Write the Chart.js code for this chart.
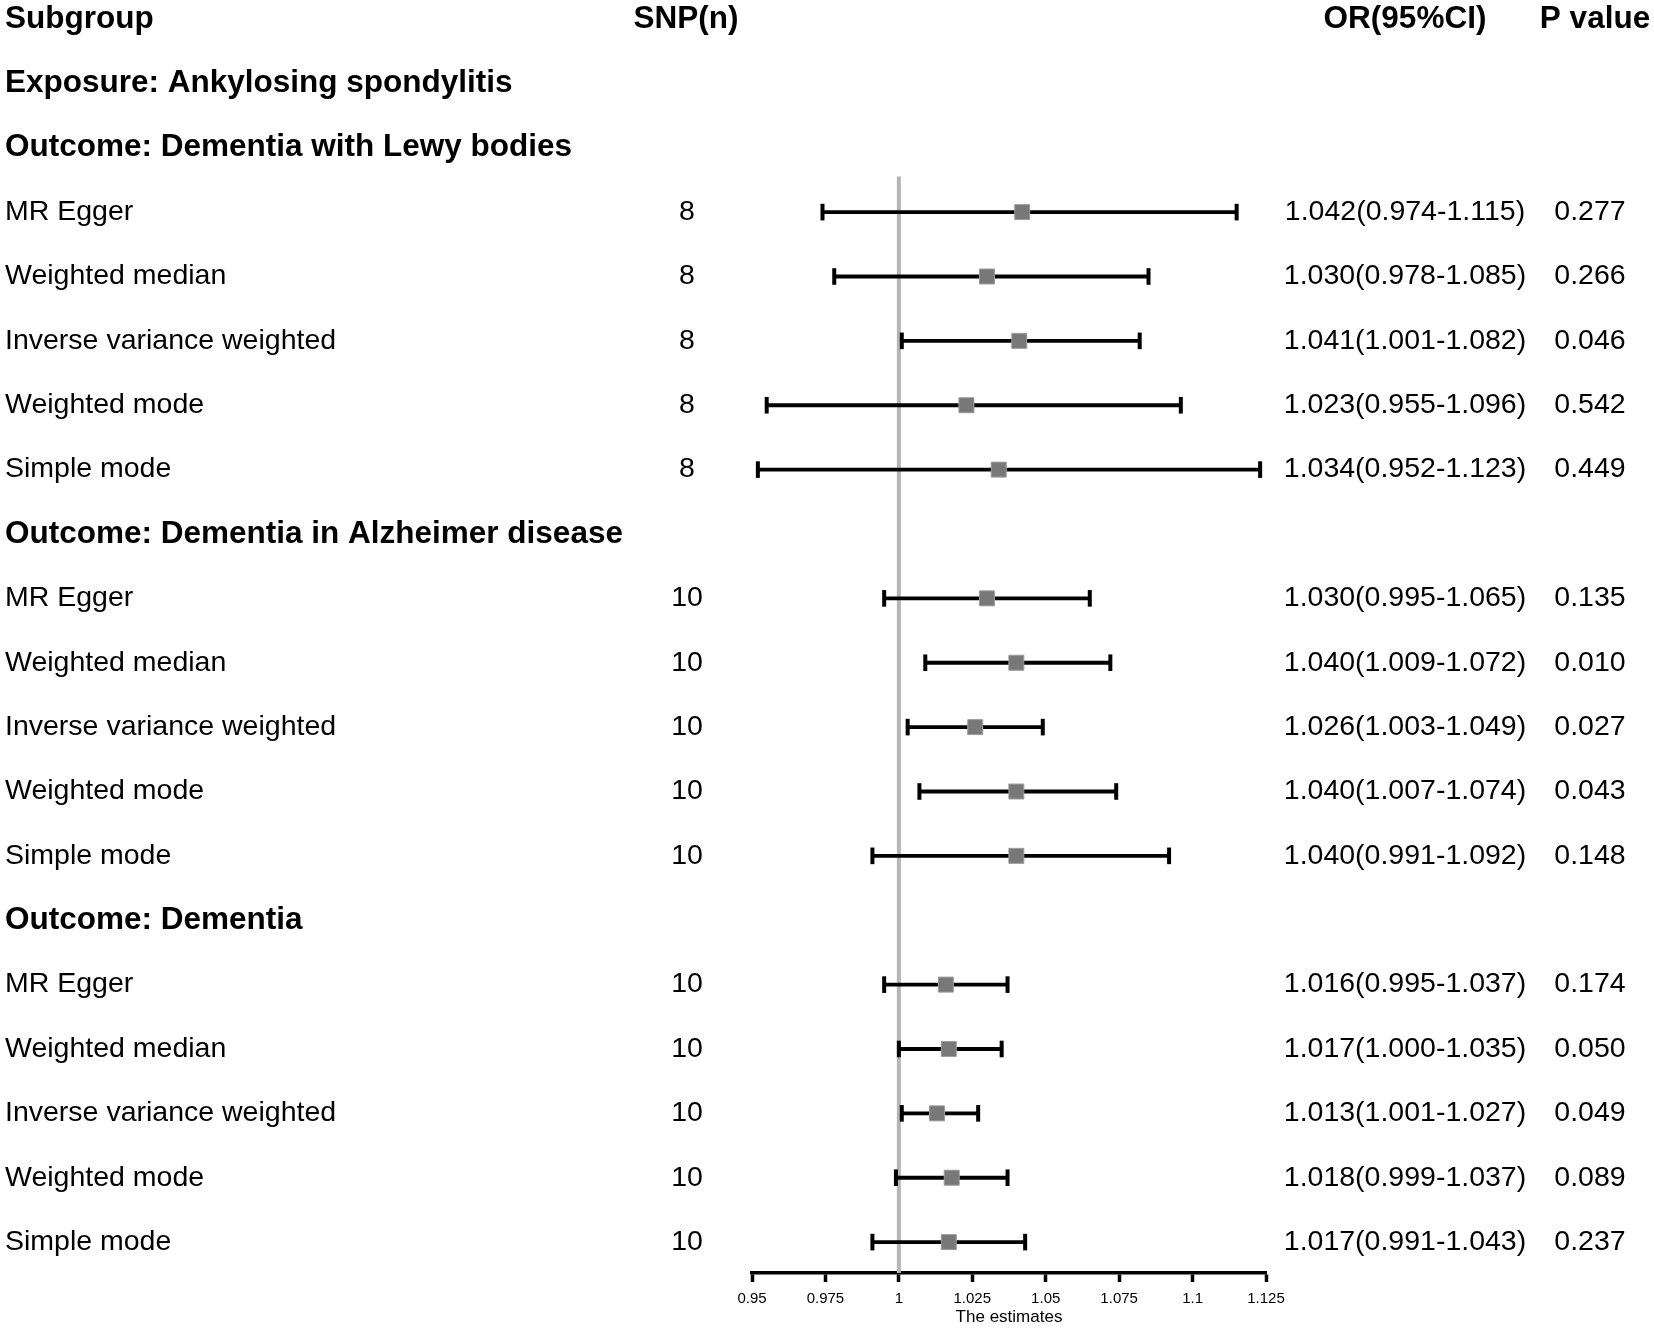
<!DOCTYPE html>
<html>
<head>
<meta charset="utf-8">
<script src="https://cdn.jsdelivr.net/npm/chart.js@4"></script>
<style>
  html, body { margin: 0; padding: 0; background: #fff; }
  #wrap { width: 1654px; height: 1328px; position: relative; }
</style>
</head>
<body>
<div id="wrap"><canvas id="c"></canvas></div>
<script>
// ---- data ----
const headerTitles = ["Subgroup", "SNP(n)", "OR(95%CI)", "P value"];
const exposureLabel = "Exposure: Ankylosing spondylitis";
const outcomes = ["Outcome: Dementia with Lewy bodies", "Outcome: Dementia in Alzheimer disease", "Outcome: Dementia"];
const methods = ["MR Egger", "Weighted median", "Inverse variance weighted", "Weighted mode", "Simple mode"];
const snpCounts = [8, 8, 8, 8, 8, 10, 10, 10, 10, 10, 10, 10, 10, 10, 10];
const orValues = [1.042, 1.030, 1.041, 1.023, 1.034, 1.030, 1.040, 1.026, 1.040, 1.040, 1.016, 1.017, 1.013, 1.018, 1.017];
const ciLower  = [0.974, 0.978, 1.001, 0.955, 0.952, 0.995, 1.009, 1.003, 1.007, 0.991, 0.995, 1.000, 1.001, 0.999, 0.991];
const ciUpper  = [1.115, 1.085, 1.082, 1.096, 1.123, 1.065, 1.072, 1.049, 1.074, 1.092, 1.037, 1.035, 1.027, 1.037, 1.043];
const pValues  = ["0.277", "0.266", "0.046", "0.542", "0.449", "0.135", "0.010", "0.027", "0.043", "0.148", "0.174", "0.050", "0.049", "0.089", "0.237"];
const tickValues = [0.95, 0.975, 1, 1.025, 1.05, 1.075, 1.1, 1.125];
const tickLabels = ["0.95", "0.975", "1", "1.025", "1.05", "1.075", "1.1", "1.125"];
const axisTitle = "The estimates";
const nullValue = 1;

// ---- row layout (row index on y scale) ----
function rowIndex(i) { const s = Math.floor(i / methods.length), m = i % methods.length; return 3 + s * (methods.length + 1) + m; }
function outcomeRow(s) { return 2 + s * (methods.length + 1); }
const Y_MIN = -0.295, Y_MAX = 19.48;

const FONT = "'Liberation Sans', Arial, Helvetica, sans-serif";

const datasets = [];
// squares (estimates)
datasets.push({
  type: 'scatter',
  data: orValues.map((v, i) => ({ x: v, y: rowIndex(i) })),
  pointStyle: 'rect',
  pointRadius: 10.6,
  pointHoverRadius: 10.6,
  backgroundColor: '#787878',
  borderColor: '#9c9c9c',
  borderWidth: 1,
  order: 1
});
// confidence intervals with caps
orValues.forEach((v, i) => {
  datasets.push({
    type: 'line',
    data: [{ x: ciLower[i], y: rowIndex(i) }, { x: ciUpper[i], y: rowIndex(i) }],
    borderColor: '#000',
    borderWidth: 3.8,
    borderCapStyle: 'butt',
    pointStyle: 'line',
    rotation: 90,
    pointRadius: 8.3,
    pointHoverRadius: 8.3,
    pointBorderColor: '#000',
    pointBorderWidth: 4,
    pointBackgroundColor: '#000',
    fill: false,
    order: 2
  });
});
// reference line at null value
datasets.push({
  type: 'line',
  data: [{ x: nullValue, y: 2.445 }, { x: nullValue, y: Y_MAX }],
  borderColor: '#b5b5b5',
  borderWidth: 4,
  pointRadius: 0,
  fill: false,
  order: 3
});

const textPlugin = {
  id: 'forestText',
  afterDraw(chart) {
    const ctx = chart.ctx;
    const y = chart.scales.y;
    ctx.save();
    ctx.fillStyle = '#000';
    ctx.textBaseline = 'middle';
    const bold = 'bold 31.5px ' + FONT;
    const reg = '28.5px ' + FONT;
    // header row
    ctx.font = bold;
    const y0 = y.getPixelForValue(0);
    ctx.textAlign = 'left';  ctx.fillText(headerTitles[0], 5, y0);
    ctx.textAlign = 'center'; ctx.fillText(headerTitles[1], 686, y0);
    ctx.fillText(headerTitles[2], 1405, y0);
    ctx.fillText(headerTitles[3], 1595, y0);
    // exposure and outcomes
    ctx.textAlign = 'left';
    ctx.fillText(exposureLabel, 5, y.getPixelForValue(1));
    outcomes.forEach((o, s) => ctx.fillText(o, 5, y.getPixelForValue(outcomeRow(s))));
    // method rows
    ctx.font = reg;
    orValues.forEach((v, i) => {
      const py = y.getPixelForValue(rowIndex(i));
      ctx.textAlign = 'left';
      ctx.fillText(methods[i % methods.length], 5, py);
      ctx.textAlign = 'center';
      ctx.fillText(String(snpCounts[i]), 687, py);
      ctx.fillText(v.toFixed(3) + '(' + ciLower[i].toFixed(3) + '-' + ciUpper[i].toFixed(3) + ')', 1405, py);
      ctx.fillText(pValues[i], 1590, py);
    });
    ctx.restore();
  }
};

new Chart(document.getElementById('c'), {
  type: 'scatter',
  data: { datasets },
  options: {
    responsive: true,
    maintainAspectRatio: false,
    animation: false,
    events: [],
    layout: { autoPadding: false, padding: { left: 752, right: 388, top: 0, bottom: 0 } },
    plugins: { legend: { display: false }, tooltip: { enabled: false } },
    scales: {
      x: {
        type: 'linear',
        min: 0.95,
        max: 1.125,
        afterBuildTicks: (scale) => { scale.ticks = tickValues.map(v => ({ value: v })); },
        afterFit: (scale) => { scale.height = 55; },
        ticks: {
          color: '#000',
          font: { family: FONT, size: 15, lineHeight: 1.0 },
          padding: 9,
          maxRotation: 0,
          autoSkip: false,
          callback: (value) => { const k = tickValues.indexOf(value); return k >= 0 ? tickLabels[k] : ''; }
        },
        grid: { drawOnChartArea: false, drawTicks: true, tickLength: 9, tickWidth: 3.5, tickColor: '#000' },
        border: { display: true, color: '#000', width: 3.5 },
        title: { display: true, text: axisTitle, color: '#000', font: { family: FONT, size: 17, lineHeight: 1.0 }, padding: { top: 0, bottom: 2 } }
      },
      y: {
        type: 'linear',
        reverse: true,
        min: Y_MIN,
        max: Y_MAX,
        display: false
      }
    }
  },
  plugins: [textPlugin]
});
</script>
</body>
</html>
